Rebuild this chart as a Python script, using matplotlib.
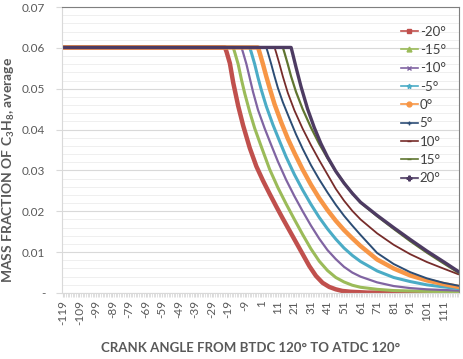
import matplotlib
matplotlib.use("Agg")
import matplotlib.pyplot as plt
from matplotlib.lines import Line2D
from matplotlib.ticker import MultipleLocator

plt.rcParams['font.family'] = ['Lato', 'DejaVu Sans']
plt.rcParams['mathtext.fontset'] = 'custom'
plt.rcParams['mathtext.rm'] = 'Lato:bold'
plt.rcParams['mathtext.it'] = 'Lato:bold'
plt.rcParams['mathtext.bf'] = 'Lato:bold'

# crank angle categories run from -119 to 120
FIRST_ANGLE = -119
LAST_ANGLE = 120
FLAT_VALUE = 0.0601

labels = ['-20°', '-15°', '-10°', '-5°', '0°', '5°', '10°', '15°', '20°']
colors = ['#C0504D', '#9BBB59', '#8064A2', '#4BACC6', '#F79646',
          '#2C4D75', '#772C2A', '#5F7530', '#4D3B62']
markers = ['s', '^', 'x', '*', 'o', '+', '_', '_', 'P']
widths = [3.2, 2.2, 1.6, 2.2, 3.2, 1.4, 1.3, 1.6, 2.4]

# decay part of every series (angle, mass fraction), flat at FLAT_VALUE before
ang_m20 = [-20, -18, -16, -13, -10, -6, -2, 2, 6, 10, 14, 18, 22, 26, 30, 34, 38, 42, 46, 50, 55, 65, 80, 120]
val_m20 = [.0590, .0562, .0515, .0458, .0410, .0355, .0310, .0275, .0243, .0212, .0182, .0153, .0124,
           .0095, .0066, .0042, .0025, .0015, .0009, .0005, .0003, .0001, .0001, .0000]
ang_m15 = [-15, -13, -11, -9, -6, -3, 1, 6, 11, 16, 21, 26, 31, 36, 41, 46, 51, 56, 61, 71, 81, 100, 120]
val_m15 = [.0588, .0560, .0522, .0488, .0443, .0403, .0358, .0303, .0258, .0218, .0180, .0143, .0108,
           .0078, .0055, .0038, .0027, .0019, .0014, .0009, .0006, .0004, .0003]
ang_m10 = [-10, -8, -6, -4, -1, 3, 7, 11, 16, 21, 26, 31, 36, 41, 46, 51, 56, 61, 71, 81, 91, 101, 120]
val_m10 = [.0588, .0560, .0526, .0492, .0448, .0403, .0362, .0322, .0277, .0237, .0200, .0165, .0133,
           .0105, .0083, .0064, .0050, .0040, .0026, .0017, .0012, .0009, .0006]
ang_m5 = [-5, -3, -1, 1, 4, 8, 12, 16, 21, 26, 31, 36, 41, 46, 51, 56, 61, 71, 81, 91, 101, 111, 120]
val_m5 = [.0588, .0560, .0527, .0497, .0457, .0412, .0372, .0333, .0290, .0252, .0217, .0185, .0157,
          .0132, .0110, .0092, .0077, .0054, .0038, .0028, .0020, .0015, .0011]
ang_0 = [0, 2, 4, 6, 9, 13, 17, 21, 26, 31, 36, 41, 46, 51, 56, 61, 71, 81, 91, 101, 111, 120]
val_0 = [.0588, .0560, .0530, .0502, .0462, .0418, .0378, .0343, .0302, .0265, .0232, .0203, .0177,
         .0154, .0134, .0115, .0082, .0060, .0043, .0031, .0022, .0015]
ang_5 = [5, 7, 9, 11, 14, 18, 22, 26, 31, 36, 41, 46, 51, 56, 61, 71, 81, 91, 101, 111, 120]
val_5 = [.0588, .0560, .0530, .0502, .0467, .0427, .0388, .0353, .0313, .0278, .0246, .0216, .0189,
         .0165, .0142, .0098, .0071, .0051, .0036, .0025, .0018]
ang_10 = [10, 12, 14, 17, 21, 26, 31, 36, 41, 46, 51, 56, 61, 71, 81, 91, 101, 111, 120]
val_10 = [.0588, .0560, .0530, .0490, .0447, .0402, .0362, .0325, .0290, .0255, .0226, .0201, .0180,
          .0146, .0118, .0095, .0076, .0060, .0046]
ang_15 = [15, 17, 19, 22, 26, 31, 36, 41, 46, 51, 56, 61, 71, 81, 91, 101, 111, 120]
val_15 = [.0588, .0560, .0530, .0492, .0450, .0405, .0365, .0330, .0298, .0270, .0244, .0221, .0188,
          .0157, .0127, .0099, .0073, .0050]
ang_20 = [20, 22, 25, 29, 33, 37, 41, 46, 51, 56, 61, 71, 81, 91, 101, 111, 120]
val_20 = [.0585, .0552, .0505, .0450, .0405, .0366, .0333, .0298, .0269, .0244, .0222, .0190, .0160,
          .0131, .0103, .0077, .0053]

angles = [ang_m20, ang_m15, ang_m10, ang_m5, ang_0, ang_5, ang_10, ang_15, ang_20]
values = [val_m20, val_m15, val_m10, val_m5, val_0, val_5, val_10, val_15, val_20]

fig = plt.figure(figsize=(4.63, 3.59), dpi=100)
ax = fig.add_axes([62 / 463, 1 - 293 / 359, 397 / 463, 286 / 359])

for a, v, c, w in zip(angles, values, colors, widths):
    xs = [FIRST_ANGLE, a[0] - 1] + a
    ys = [FLAT_VALUE, FLAT_VALUE] + v
    ax.plot(xs, ys, color=c, lw=w, solid_joinstyle='round')

ax.set_xlim(FIRST_ANGLE - 0.5, LAST_ANGLE + 0.5)
ax.set_ylim(0, 0.07)

ax.set_xticks(range(FIRST_ANGLE, LAST_ANGLE, 10))
ax.set_xticklabels([str(t) for t in range(FIRST_ANGLE, LAST_ANGLE, 10)], rotation=90)
ax.xaxis.set_minor_locator(MultipleLocator(1))
ax.set_yticks([0, 0.01, 0.02, 0.03, 0.04, 0.05, 0.06, 0.07])
ax.set_yticklabels(['-', '0.01', '0.02', '0.03', '0.04', '0.05', '0.06', '0.07'])
ax.yaxis.set_minor_locator(MultipleLocator(0.002))

ax.tick_params(axis='x', which='both', length=3, color='#D9D9D9', pad=2,
               labelsize=8.5, labelcolor='#595959')
ax.tick_params(axis='y', which='major', length=4, color='#D9D9D9', pad=8,
               labelsize=8.5, labelcolor='#595959')
ax.tick_params(axis='y', which='minor', length=0)

ax.grid(which='major', axis='y', color='#D9D9D9', lw=0.8)
ax.grid(which='minor', axis='y', color='#EDEDED', lw=0.6)
ax.set_axisbelow(True)

ax.spines['left'].set_color('#D9D9D9')
ax.spines['bottom'].set_color('#D9D9D9')
ax.spines['top'].set_color('#7F7F7F')
ax.spines['right'].set_color('#7F7F7F')
for s in ax.spines.values():
    s.set_linewidth(0.8)

handles = [Line2D([0], [0], color=c, lw=1.2, marker=m, markersize=3.5)
           for c, m in zip(colors, markers)]
fig.legend(handles, labels, loc='upper left', bbox_to_anchor=(394 / 463, 1 - 19 / 359),
           frameon=False, fontsize=9.5, handlelength=1.3, handletextpad=0.15,
           labelspacing=0.48, borderpad=0, labelcolor='#404040')

fig.text(251 / 463, 1 - 348 / 359, 'CRANK ANGLE FROM BTDC 120° TO ATDC 120°',
         ha='center', va='center', fontsize=9.5, fontweight='bold', color='#595959')
fig.text(9 / 463, 1 - 170 / 359, r'MASS FRACTION OF C$_3$H$_8$, average',
         ha='center', va='center', rotation=90, fontsize=10, fontweight='bold', color='#595959')

fig.savefig('out.png', dpi=100)
